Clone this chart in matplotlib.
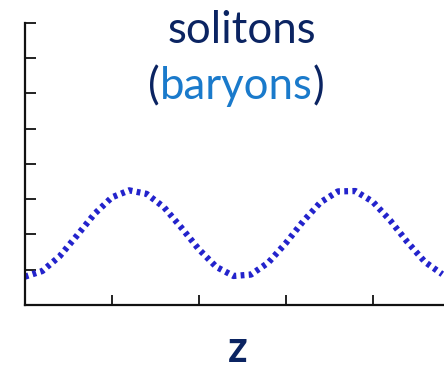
import matplotlib.pyplot as plt

# wave (z position vs. height)
z_vals = [0.0, 0.2, 0.4, 0.6, 0.8, 1.0, 1.2, 1.4, 1.6, 1.8, 2.0, 2.2, 2.4,
          2.6, 2.8, 3.0, 3.2, 3.4, 3.6, 3.8, 4.0, 4.2, 4.4, 4.6, 4.8]
h_vals = [0.80, 0.96, 1.38, 1.97, 2.58, 3.05, 3.25, 3.15, 2.77, 2.19, 1.58, 1.08, 0.82,
          0.86, 1.20, 1.75, 2.37, 2.91, 3.22, 3.23, 2.93, 2.40, 1.78, 1.22, 0.87]
x_ticks = [1, 2, 3, 4]
y_ticks = [1, 2, 3, 4, 5, 6, 7, 8]

navy = '#0b2462'
light_blue = '#1a7acb'
font = ['Lato', 'DejaVu Sans']

fig = plt.figure(figsize=(4.44, 3.7), dpi=100)
ax = fig.add_axes([0.056, 0.176, 0.944, 0.762])

line, = ax.plot(z_vals, h_vals, color='#2323cc', lw=4.5, solid_capstyle='butt')
line.set_dashes([0.6, 0.7])
line.set_dash_capstyle('butt')

ax.set_xlim(0, 4.82)
ax.set_ylim(0, 8)
ax.set_xticks(x_ticks)
ax.set_yticks(y_ticks)
ax.set_xticklabels([])
ax.set_yticklabels([])
ax.tick_params(direction='in', length=8, width=1.4, color='#222222')
ax.tick_params(axis='x', length=7)
for s in ['top', 'right']:
    ax.spines[s].set_visible(False)
for s in ['left', 'bottom']:
    ax.spines[s].set_linewidth(1.6)
    ax.spines[s].set_color('#111111')

# title, two lines, second line with coloured word
fs = 31.5
fig.text(0.545, 0.883, 'solitons', ha='center', va='baseline',
         fontsize=fs, color=navy, family=font)
t1 = fig.text(0.334, 0.732, '(', ha='left', va='baseline', fontsize=fs, color=navy, family=font)
fig.canvas.draw()
bb = t1.get_window_extent()
t2 = fig.text(bb.x1 / 444, 0.732, 'baryons', ha='left', va='baseline',
              fontsize=fs, color=light_blue, family=font)
fig.canvas.draw()
bb = t2.get_window_extent()
fig.text(bb.x1 / 444, 0.732, ')', ha='left', va='baseline', fontsize=fs, color=navy, family=font)

fig.text(0.536, 0.003, 'z', ha='center', va='bottom', fontsize=31,
         fontweight='bold', color=navy, family=font)

fig.savefig('out.png', dpi=100)
